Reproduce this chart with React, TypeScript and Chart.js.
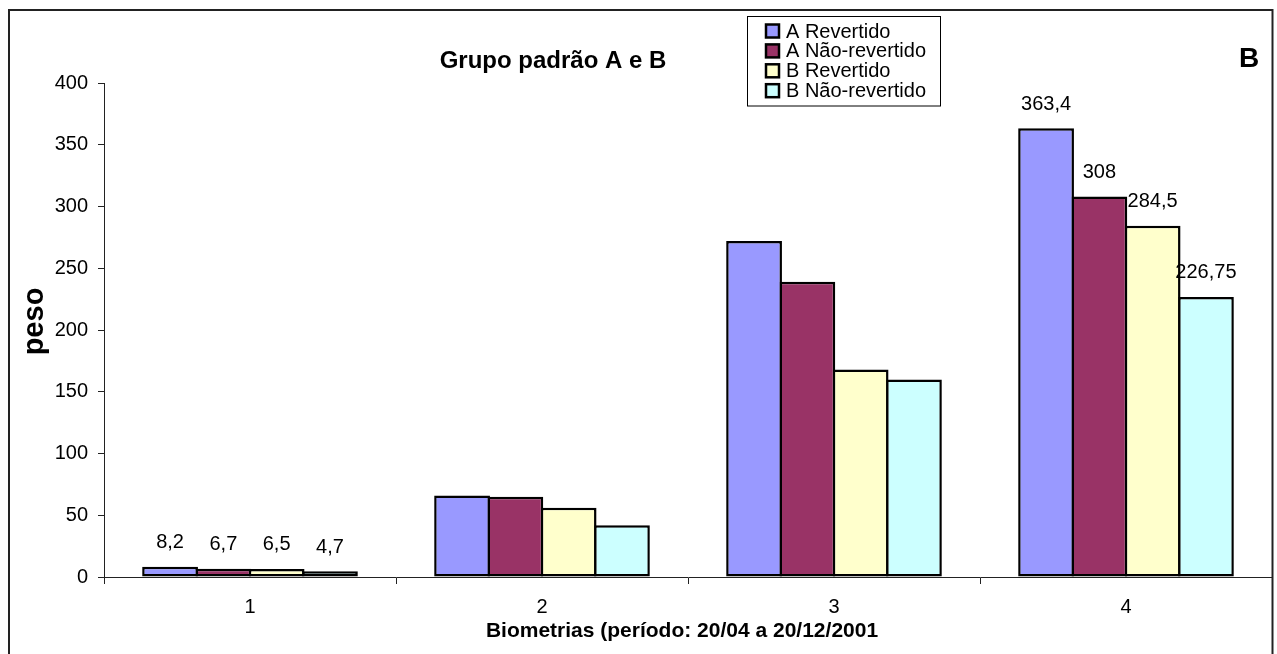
import { useEffect, useRef } from "react";
import { Chart, registerables } from "chart.js";

Chart.register(...registerables);

// Biometry periods (x categories)
const categories = ["1", "2", "3", "4"];

// Mean weight per group at each biometry
const seriesNames = ["A Revertido", "A Não-revertido", "B Revertido", "B Não-revertido"];
const aRevertido = [8.2, 66, 272, 363.4];
const aNaoRevertido = [6.7, 65, 239, 308];
const bRevertido = [6.5, 56, 168, 284.5];
const bNaoRevertido = [4.7, 42, 160, 226.75];
const seriesColors = ["#9999FF", "#993366", "#FFFFCC", "#CCFFFF"];

// Value axis
const yMin = 0;
const yMax = 400;
const yStep = 50;

// Categories whose bars carry value labels
const labeledCategories = [0, 3];

const chartTitle = "Grupo padrão A e B";
const panelLetter = "B";
const xTitle = "Biometrias (período: 20/04 a 20/12/2001";
const yTitle = "peso";

const FONT = '"Liberation Sans", Arial, Helvetica, sans-serif';
const W = 1277;
const H = 654;

const formatValue = (v: number) => String(v).replace(".", ",");

const decorations = {
  id: "decorations",
  afterDraw(chart: any) {
    const ctx: CanvasRenderingContext2D = chart.ctx;
    const area = chart.chartArea;
    ctx.save();

    // outer frame of the chart
    ctx.strokeStyle = "#222";
    ctx.lineWidth = 2;
    ctx.strokeRect(9, 10, 1263.5, 720);

    ctx.fillStyle = "#000";

    // title
    ctx.font = `bold 24px ${FONT}`;
    ctx.textAlign = "center";
    ctx.textBaseline = "alphabetic";
    ctx.fillText(chartTitle, 553, 67.5);

    // panel letter
    ctx.font = `bold 28px ${FONT}`;
    ctx.fillText(panelLetter, 1249, 66.5);

    // x axis title
    ctx.font = `bold 21px ${FONT}`;
    ctx.fillText(xTitle, 682, 636.5);

    // y axis title
    ctx.save();
    ctx.translate(43, (area.top + area.bottom) / 2 - 8.5);
    ctx.rotate(-Math.PI / 2);
    ctx.font = `bold 29px ${FONT}`;
    ctx.textAlign = "center";
    ctx.textBaseline = "alphabetic";
    ctx.fillText(yTitle, 0, 0);
    ctx.restore();

    // value labels above bars
    ctx.font = `20px ${FONT}`;
    ctx.textAlign = "center";
    ctx.textBaseline = "middle";
    chart.data.datasets.forEach((ds: any, di: number) => {
      const meta = chart.getDatasetMeta(di);
      labeledCategories.forEach((ci) => {
        const el = meta.data[ci];
        if (!el) return;
        ctx.fillText(formatValue(ds.data[ci]), el.x, el.y - 24);
      });
    });

    // legend box
    const lx = 747.5;
    const ly = 16.5;
    const lw = 193;
    const lh = 89.5;
    ctx.fillStyle = "#fff";
    ctx.fillRect(lx, ly, lw, lh);
    ctx.strokeStyle = "#000";
    ctx.lineWidth = 1;
    ctx.strokeRect(lx, ly, lw, lh);
    ctx.font = `20px ${FONT}`;
    ctx.textAlign = "left";
    ctx.textBaseline = "middle";
    chart.data.datasets.forEach((ds: any, di: number) => {
      const cy = 31 + di * 19.9;
      ctx.fillStyle = ds.backgroundColor;
      ctx.fillRect(766, cy - 6.5, 13, 13);
      ctx.strokeStyle = "#000";
      ctx.lineWidth = 2.5;
      ctx.strokeRect(766, cy - 6.5, 13, 13);
      ctx.fillStyle = "#000";
      ctx.fillText(ds.label, 786, cy + 1);
    });

    ctx.restore();
  },
};

export default function App() {
  const canvasRef = useRef<HTMLCanvasElement | null>(null);

  useEffect(() => {
    if (!canvasRef.current) return;
    const values = [aRevertido, aNaoRevertido, bRevertido, bNaoRevertido];
    const chart = new Chart(canvasRef.current, {
      type: "bar",
      data: {
        labels: categories,
        datasets: seriesNames.map((name, i) => ({
          label: name,
          data: values[i],
          backgroundColor: seriesColors[i],
          borderColor: "#000",
          borderWidth: 2.5,
          borderSkipped: false,
          barPercentage: 1.047,
          categoryPercentage: 0.73,
        })),
      },
      options: {
        responsive: false,
        animation: false,
        devicePixelRatio: 1,
        layout: { padding: { top: 83, right: 5, bottom: 0, left: 0 } },
        plugins: {
          legend: { display: false },
          title: { display: false },
          tooltip: { enabled: false },
        },
        scales: {
          x: {
            type: "category",
            offset: true,
            grid: {
              offset: true,
              drawOnChartArea: false,
              drawTicks: true,
              tickLength: 7,
              color: "#222",
            },
            border: { display: true, color: "#222", width: 1 },
            ticks: {
              color: "#000",
              padding: 11,
              font: { family: FONT, size: 20 },
              maxRotation: 0,
            },
            afterFit: (scale: any) => {
              scale.height = 77;
              scale.paddingLeft = 0;
              scale.paddingRight = 0;
            },
          },
          y: {
            min: yMin,
            max: yMax,
            grid: {
              drawOnChartArea: false,
              drawTicks: true,
              tickLength: 6,
              color: "#222",
            },
            border: { display: true, color: "#222", width: 1 },
            ticks: {
              stepSize: yStep,
              color: "#000",
              padding: 10,
              font: { family: FONT, size: 20 },
            },
            afterFit: (scale: any) => {
              scale.width = 104;
              scale.paddingTop = 0;
              scale.paddingBottom = 0;
            },
          },
        },
      },
      plugins: [decorations],
    });
    return () => chart.destroy();
  }, []);

  return (
    <div style={{ position: "fixed", left: 0, top: 0, width: W, height: H, background: "#fff" }}>
      <canvas ref={canvasRef} width={W} height={H} style={{ display: "block" }} />
    </div>
  );
}
